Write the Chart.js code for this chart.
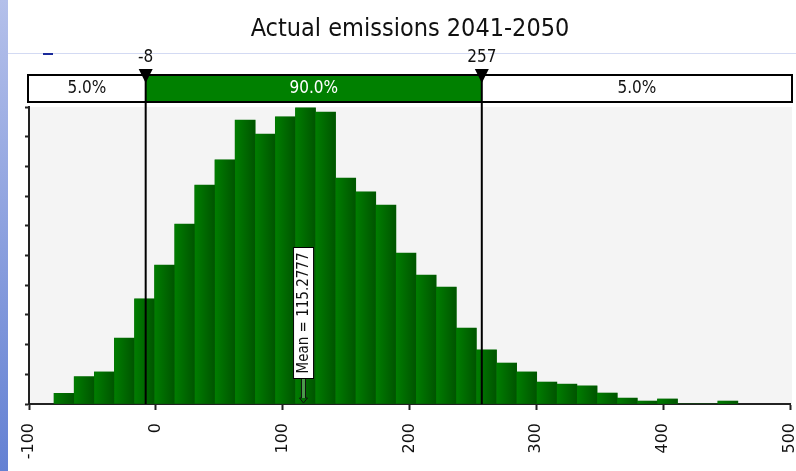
<!DOCTYPE html>
<html>
<head>
<meta charset="utf-8">
<script src="https://cdn.jsdelivr.net/npm/chart.js@4.4.0/dist/chart.umd.min.js"></script>
<style>
  html, body { margin: 0; padding: 0; background: #fff; }
  #wrap { width: 796px; height: 471px; position: relative; }
</style>
</head>
<body>
<div id="wrap"><canvas id="histChart" width="796" height="471"></canvas></div>
<script>
// histogram bins (centre of each bin) and bar heights
const binCenters = [-72.4, -56.5, -40.6, -24.8, -8.9, 6.9, 22.8, 38.6, 54.5, 70.4,
  86.2, 102.1, 118.0, 133.8, 149.7, 165.5, 181.4, 197.2, 213.1, 229.0,
  244.8, 260.7, 276.6, 292.4, 308.3, 324.1, 340.0, 355.9, 371.7, 387.6,
  403.4, 419.3, 435.2, 451.0];
const binCounts = [0.36, 0.92, 1.08, 2.22, 3.54, 4.68, 6.06, 7.37, 8.22, 9.56,
  9.09, 9.67, 9.97, 9.83, 7.61, 7.14, 6.70, 5.08, 4.34, 3.94,
  2.56, 1.82, 1.38, 1.08, 0.74, 0.67, 0.61, 0.37, 0.20, 0.10,
  0.17, 0, 0, 0.10];

const xTicks = [-100, 0, 100, 200, 300, 400, 500];
const titleText = "Actual emissions 2041-2050";
const lowerMark = -8;
const upperMark = 257;
const meanValue = 115.2777;
const bandLabels = ["5.0%", "90.0%", "5.0%"];

const FONT = "'DejaVu Sans Condensed', 'DejaVu Sans', sans-serif";

const overlay = {
  id: "overlay",
  beforeDraw(chart) {
    const ctx = chart.ctx;
    const a = chart.chartArea;
    ctx.save();
    ctx.fillStyle = "#fff";
    ctx.fillRect(0, 0, chart.width, chart.height);

    // blue strip on the left edge
    const g = ctx.createLinearGradient(0, 0, 0, chart.height);
    g.addColorStop(0, "#b4c0ea");
    g.addColorStop(1, "#6481d3");
    ctx.fillStyle = g;
    ctx.fillRect(0, 0, 8, chart.height);

    // thin line under the title
    ctx.fillStyle = "#d3daf3";
    ctx.fillRect(8, 53, chart.width - 8, 1);
    ctx.fillStyle = "#1a2a9a";
    ctx.fillRect(43, 53, 10, 2);

    // plot background
    ctx.fillStyle = "#f4f4f4";
    ctx.fillRect(a.left, a.top, 792 - a.left, a.bottom - a.top);

    // title
    ctx.fillStyle = "#111";
    ctx.font = "25px " + FONT;
    ctx.textAlign = "center";
    ctx.textBaseline = "middle";
    ctx.fillText(titleText, 410, 29);
    ctx.restore();
  },
  afterDatasetsDraw(chart) {
    const ctx = chart.ctx;
    const a = chart.chartArea;
    const xs = chart.scales.x;
    ctx.save();

    // shade every bar from light to dark green
    chart.getDatasetMeta(0).data.forEach(bar => {
      const p = bar.getProps(["x", "y", "base", "width"], true);
      if (p.base - p.y < 0.5) return;
      const l = p.x - p.width / 2;
      const gr = ctx.createLinearGradient(l, 0, l + p.width, 0);
      gr.addColorStop(0, "#007d00");
      gr.addColorStop(1, "#005400");
      ctx.fillStyle = gr;
      ctx.fillRect(l, p.y, p.width, p.base - p.y);
    });

    const xLo = xs.getPixelForValue(lowerMark);
    const xHi = xs.getPixelForValue(upperMark);
    const barTop = 75, barBot = 102, barL = 28, barR = 792;

    // top band
    ctx.fillStyle = "#fff";
    ctx.fillRect(barL, barTop, barR - barL, barBot - barTop);
    ctx.fillStyle = "#008000";
    ctx.fillRect(xLo, barTop, xHi - xLo, barBot - barTop);
    ctx.strokeStyle = "#000";
    ctx.lineWidth = 2;
    ctx.strokeRect(barL, barTop, barR - barL, barBot - barTop);

    ctx.font = "17px " + FONT;
    ctx.textAlign = "center";
    ctx.textBaseline = "middle";
    ctx.fillStyle = "#111";
    ctx.fillText(bandLabels[0], (barL + xLo) / 2, 89);
    ctx.fillStyle = "#fff";
    ctx.fillText(bandLabels[1], (xLo + xHi) / 2, 89);
    ctx.fillStyle = "#111";
    ctx.fillText(bandLabels[2], (xHi + barR) / 2, 89);

    // delimiter lines
    ctx.strokeStyle = "#000";
    ctx.lineWidth = 2;
    [xLo, xHi].forEach(x => {
      ctx.beginPath();
      ctx.moveTo(x, barTop);
      ctx.lineTo(x, a.bottom);
      ctx.stroke();
      // triangle marker
      ctx.fillStyle = "#000";
      ctx.beginPath();
      ctx.moveTo(x - 7, 69);
      ctx.lineTo(x + 7, 69);
      ctx.lineTo(x, 83);
      ctx.closePath();
      ctx.fill();
    });
    ctx.fillStyle = "#111";
    ctx.font = "17px " + FONT;
    ctx.fillText(String(lowerMark), xLo, 58);
    ctx.fillText(String(upperMark), xHi, 58);

    // mean label
    const xm = xs.getPixelForValue(meanValue);
    const boxTop = 247, boxBot = 379;
    ctx.fillStyle = "#fff";
    ctx.fillRect(xm - 9, boxTop, 21, boxBot - boxTop);
    ctx.strokeStyle = "#000";
    ctx.lineWidth = 1;
    ctx.strokeRect(xm - 9 + 0.5, boxTop + 0.5, 20, boxBot - boxTop - 1);
    ctx.save();
    ctx.translate(xm + 1.5, (boxTop + boxBot) / 2);
    ctx.rotate(-Math.PI / 2);
    ctx.fillStyle = "#111";
    ctx.font = "15px " + FONT;
    ctx.fillText("Mean = " + meanValue, 0, 1);
    ctx.restore();

    // arrow down to the axis
    const ax = Math.round(xm + 1) + 0.5;
    ctx.fillStyle = "#4a9a4a";
    ctx.fillRect(ax - 1.5, boxBot, 3, a.bottom - boxBot - 6);
    ctx.strokeStyle = "#111";
    ctx.beginPath();
    ctx.moveTo(ax - 2, boxBot);
    ctx.lineTo(ax - 2, a.bottom - 6);
    ctx.lineTo(ax - 4, a.bottom - 6);
    ctx.lineTo(ax, a.bottom - 1);
    ctx.lineTo(ax + 4, a.bottom - 6);
    ctx.lineTo(ax + 2, a.bottom - 6);
    ctx.lineTo(ax + 2, boxBot);
    ctx.stroke();

    ctx.restore();
  }
};

new Chart(document.getElementById("histChart"), {
  type: "bar",
  data: {
    datasets: [{
      data: binCenters.map((c, i) => ({ x: c, y: binCounts[i] })),
      backgroundColor: "#006a00",
      borderWidth: 0,
      barPercentage: 1,
      categoryPercentage: 1
    }]
  },
  options: {
    responsive: false,
    animation: false,
    layout: { padding: { top: 107, right: 6, left: 0, bottom: 0 } },
    plugins: {
      legend: { display: false },
      tooltip: { enabled: false },
      title: { display: false }
    },
    scales: {
      x: {
        type: "linear",
        min: -100,
        max: 500,
        offset: false,
        z: 1,
        afterBuildTicks: s => { s.ticks = xTicks.map(v => ({ value: v })); },
        ticks: {
          minRotation: 90,
          maxRotation: 90,
          padding: 13,
          color: "#111",
          font: { family: "'DejaVu Sans', sans-serif", size: 16 }
        },
        grid: { offset: false, drawOnChartArea: false, tickLength: 6, tickWidth: 2, tickColor: "#222" },
        border: { color: "#222", width: 2 },
        afterFit: s => { s.height = 67; s.paddingLeft = 0; s.paddingRight = 0; }
      },
      y: {
        min: 0,
        max: 10,
        ticks: { stepSize: 1, color: "transparent" },
        grid: { drawOnChartArea: false, tickLength: 4, tickWidth: 2, tickColor: "#222" },
        border: { color: "#222", width: 2 },
        afterFit: s => { s.width = 29; }
      }
    }
  },
  plugins: [overlay]
});
</script>
</body>
</html>
